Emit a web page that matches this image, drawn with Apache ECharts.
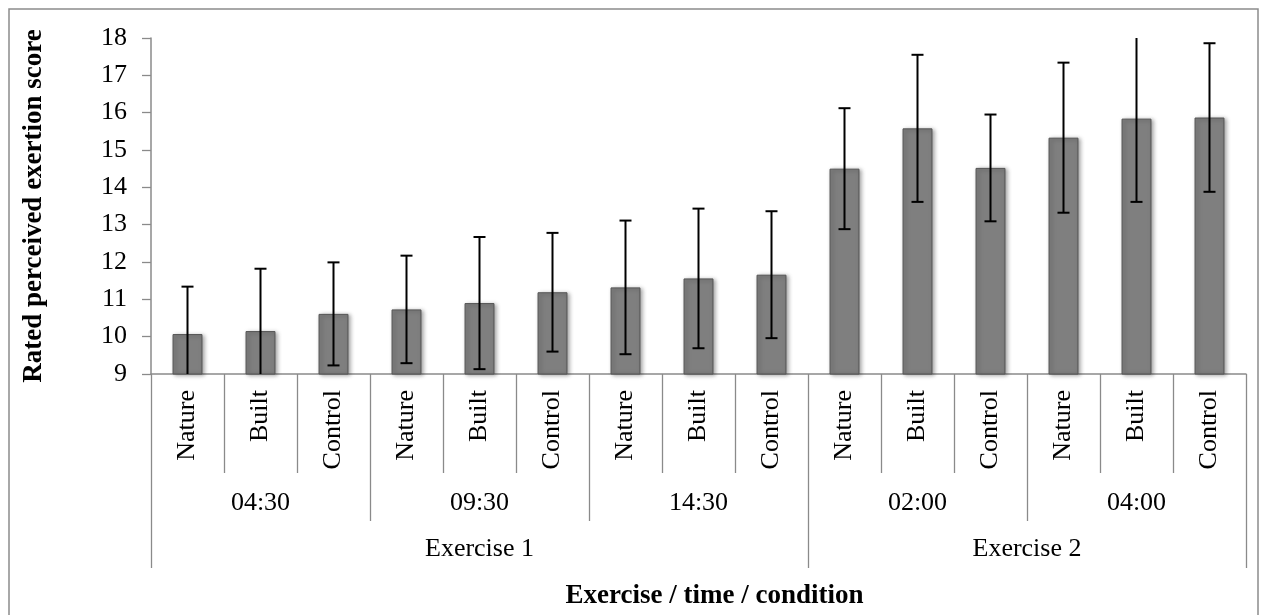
<!DOCTYPE html>
<html><head><meta charset="utf-8">
<script src="https://cdn.jsdelivr.net/npm/echarts@6/dist/echarts.min.js"></script>
<style>html,body{margin:0;padding:0;background:#fff}#c{width:1267px;height:615px}</style>
</head><body><div id="c"></div>
<script>
// ---- data ----
const conditions = ['Nature','Built','Control','Nature','Built','Control','Nature','Built','Control',
                    'Nature','Built','Control','Nature','Built','Control'];
const times = ['04:30','09:30','14:30','02:00','04:00'];
const timeGroupSizes = [3,3,3,3,3];
const exercises = ['Exercise 1','Exercise 2'];
const exerciseGroupSizes = [9,6];
const meanScore = [10.07,10.15,10.61,10.73,10.90,11.19,11.32,11.56,11.66,14.50,15.58,14.52,15.33,15.84,15.87];
const sdScore   = [1.27,1.67,1.38,1.44,1.77,1.59,1.79,1.87,1.70,1.62,1.97,1.43,2.01,2.23,1.99];
const yTicks = [9,10,11,12,13,14,15,16,17,18];

// ---- helpers: group boundaries / centres from group sizes ----
function groupInfo(sizes){
  const bounds=[0], centres=[]; let acc=0;
  sizes.forEach(s=>{centres.push(acc+s/2); acc+=s; bounds.push(acc);});
  return {bounds, centres};
}
const tg = groupInfo(timeGroupSizes);
const eg = groupInfo(exerciseGroupSizes);

const FONT = 'Liberation Serif';
const GRAY = '#8a8a8a';

const chart = echarts.init(document.getElementById('c'));
const option = {
  animation:false,
  backgroundColor:'#fff',
  graphic:[{type:'rect',shape:{x:9,y:9,width:1249,height:640},
            style:{fill:'none',stroke:'#8c8c8c',lineWidth:1.5},silent:true,z:-1}],
  grid:{left:151,right:21,top:38,bottom:237,containLabel:false},
  xAxis:[
    {type:'category',data:conditions,position:'bottom',
     axisLine:{show:true,lineStyle:{color:GRAY,width:1.5}},
     axisTick:{show:true,length:99,alignWithLabel:false,lineStyle:{color:GRAY,width:1.3}},
     axisLabel:{rotate:90,margin:16,fontFamily:FONT,fontSize:26,color:'#000',interval:0},
     splitLine:{show:false}},
    {type:'value',min:0,max:conditions.length,position:'bottom',offset:99,
     axisLine:{show:false},
     axisTick:{show:true,length:48,customValues:tg.bounds,lineStyle:{color:GRAY,width:1.3}},
     axisLabel:{show:true,margin:17,customValues:tg.centres,fontFamily:FONT,fontSize:26,color:'#000',
       formatter:v=>{const i=tg.centres.indexOf(v);return i>=0?times[i]:'';}},
     splitLine:{show:false}},
    {type:'value',min:0,max:conditions.length,position:'bottom',offset:147,
     axisLine:{show:false},
     axisTick:{show:true,length:47,customValues:eg.bounds,lineStyle:{color:GRAY,width:1.3}},
     axisLabel:{show:true,margin:15,customValues:eg.centres,fontFamily:FONT,fontSize:26,color:'#000',
       formatter:v=>{const i=eg.centres.indexOf(v);return i>=0?exercises[i]:'';}},
     splitLine:{show:false},
     name:'Exercise / time / condition',nameLocation:'middle',nameGap:62,
     nameTextStyle:{fontFamily:FONT,fontSize:27,fontWeight:'bold',color:'#000',padding:[0,0,0,32]}}
  ],
  yAxis:{type:'value',min:yTicks[0],max:yTicks[yTicks.length-1],interval:1,
     axisLine:{show:true,lineStyle:{color:GRAY,width:1.5}},
     axisTick:{show:true,length:9,lineStyle:{color:GRAY,width:1.3}},
     axisLabel:{margin:24,fontFamily:FONT,fontSize:26,color:'#000'},
     splitLine:{show:false},
     name:'Rated perceived exertion score',nameLocation:'middle',nameGap:103,
     nameTextStyle:{fontFamily:FONT,fontSize:27,fontWeight:'bold',color:'#000'}},
  series:[
    {type:'bar',xAxisIndex:0,data:meanScore,barWidth:'41%',
     itemStyle:{color:'#7f7f7f',borderColor:'#555',borderWidth:1,
       shadowBlur:4,shadowColor:'rgba(0,0,0,0.35)',shadowOffsetX:2,shadowOffsetY:1}},
    {type:'custom',xAxisIndex:0,clip:true,z:5,
     data:meanScore.map((m,i)=>[i,m,sdScore[i]]),
     renderItem:(params,api)=>{
       const i=api.value(0), m=api.value(1), s=api.value(2);
       const hi=api.coord([i,m+s]), lo=api.coord([i,m-s]);
       const w=6;
       const st={stroke:'#000',lineWidth:2};
       return {type:'group',children:[
         {type:'line',shape:{x1:hi[0],y1:hi[1],x2:lo[0],y2:lo[1]},style:st},
         {type:'line',shape:{x1:hi[0]-w,y1:hi[1],x2:hi[0]+w,y2:hi[1]},style:st},
         {type:'line',shape:{x1:lo[0]-w,y1:lo[1],x2:lo[0]+w,y2:lo[1]},style:st}
       ]};
     }}
  ]
};
chart.setOption(option);
</script></body></html>
